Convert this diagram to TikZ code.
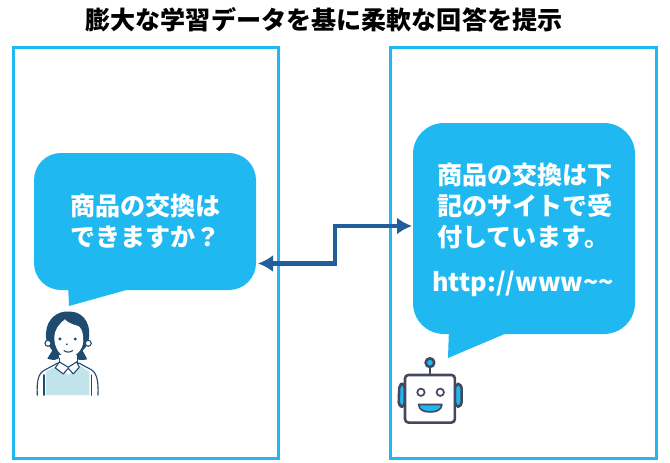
\documentclass[tikz,border=0pt]{standalone}
\usepackage{fontspec}
\setmainfont{Noto Sans CJK JP}
\usetikzlibrary{arrows.meta,calc}
\definecolor{sky}{HTML}{1FB8F1}
\definecolor{arrowblue}{HTML}{215F9C}
\definecolor{navy}{HTML}{1F4B6E}
\definecolor{vest}{HTML}{C1E4EA}
\definecolor{robot}{HTML}{44485F}
\tikzset{
  panel/.style={draw=sky,line width=3pt,minimum width=#1,minimum height=411pt,inner sep=0pt,outer sep=0pt},
  bubble/.style={fill=sky,rounded corners=#1,inner sep=0pt,outer sep=0pt},
  bubbletext/.style={text=white,font=\fontsize{25.1pt}{31pt}\selectfont\bfseries},
  person/.style={draw=navy,line width=1.1pt,line join=round,line cap=round},
  robotline/.style={draw=robot,line width=2.6pt,line join=round},
  link/.style={draw=arrowblue,line width=4.5pt,{Latex[length=15pt,width=17pt]}-{Latex[length=15pt,width=17pt]}}
}
\begin{document}
\begin{tikzpicture}[x=1pt,y=-1pt]
\useasboundingbox (0,0) rectangle (670,463);
\node[font=\fontsize{25.1pt}{30pt}\selectfont\bfseries,anchor=center] (title) at (324,20) {膨大な学習データを基に柔軟な回答を提示};
\node[panel=265pt,anchor=north west] (leftpanel) at (13,47.5) {};
\node[panel=266pt,anchor=north west] (rightpanel) at (390.5,47.5) {};
% bubbles
\node[bubble=27pt,minimum width=222pt,minimum height=137pt,anchor=north west] (lbubble) at (34,153) {};
\fill[sky] (68,285) -- (69,306) -- (130,289) -- cycle;
\node[bubble=31pt,minimum width=222pt,minimum height=211pt,anchor=north west] (rbubble) at (413,123) {};
\fill[sky] (449,328) -- (448,358) -- (507,333) -- cycle;
\node[bubbletext,align=center] (ltext) at (145.5,221) {商品の交換は\\できますか？};
\node[bubbletext,align=left,anchor=north west] (rtext) at (433.5,159.5) {商品の交換は下\\記のサイトで受\\付しています。};
\node[bubbletext,font=\fontsize{25.2pt}{30pt}\selectfont\bfseries] (url) at (523,284) {http://www\textasciitilde\textasciitilde};
% connector
\coordinate (la) at ($(lbubble.east)+(2,42)$);
\coordinate (ra) at ($(rbubble.west)+(-1,-2.5)$);
\draw[link] (la) -| ($(la)!0.5!(ra)$) |- (ra);
% person
\begin{scope}[shift={(20,280)},x=0.333pt,y=-0.333pt]
  \path[person,fill=white] (52,346) .. controls (50,300) and (55,280) .. (75,270) -- (112,250) -- (178,250) -- (215,270) .. controls (232,280) and (236,310) .. (234,346);
  \fill[vest] (78,346) -- (78,275) -- (110,258) -- (145,285) -- (180,258) -- (208,275) -- (208,346) -- cycle;
  \draw[person] (72,346) -- (72,285);
  \draw[person] (214,346) -- (214,285);
  \fill[navy] (78,160) .. controls (80,115) and (115,92) .. (145,95) .. controls (185,92) and (210,125) .. (208,165) .. controls (208,185) and (198,205) .. (188,212) -- (202,238) .. controls (185,243) and (170,240) .. (165,232) -- (120,232) .. controls (112,240) and (100,243) .. (82,236) -- (97,212) .. controls (88,200) and (76,185) .. (78,160) -- cycle;
  \draw[person,fill=white] (84,190) circle[radius=9];
  \draw[person,fill=white] (205,190) circle[radius=9];
  \path[fill=white] (118,225) -- (172,225) -- (172,262) -- (118,262) -- cycle;
  \path[fill=white] (103,170) .. controls (104,150) and (118,130) .. (135,118) .. controls (150,135) and (172,135) .. (178,140) .. controls (188,150) and (190,165) .. (190,185) .. controls (188,212) and (165,232) .. (145,232) .. controls (122,232) and (102,205) .. (103,170) -- cycle;
  \draw[person] (118,235) -- (118,250);
  \draw[person] (172,235) -- (172,250);
  \draw[person,fill=white] (118,246) -- (145,262) -- (170,246) -- (178,262) -- (160,282) -- (145,265) -- (130,282) -- (106,264) -- cycle;
  \fill[navy] (120,177) circle[radius=5];
  \fill[navy] (166,177) circle[radius=5];
  \fill[navy] (141,193) circle[radius=3];
  \draw[person] (132,212) .. controls (140,218) and (150,218) .. (158,212);
\end{scope}
% robot
\begin{scope}[shift={(380,330)},x=0.333pt,y=-0.333pt]
  \draw[robotline] (150,110) -- (150,135);
  \draw[robotline,fill=sky] (150,98) circle[radius=13];
  \draw[robotline,fill=sky,rounded corners=4pt] (75,162) -- (58,162) -- (56,230) -- (75,230) -- cycle;
  \draw[robotline,fill=sky,rounded corners=4pt] (225,162) -- (245,162) -- (245,230) -- (225,230) -- cycle;
  \draw[robotline,fill=white,rounded corners=3.5pt] (75,135) rectangle (225,278);
  \draw[draw=robot,line width=1.7pt,fill=white] (123,187) circle[radius=11];
  \draw[draw=robot,line width=1.7pt,fill=white] (181,187) circle[radius=11];
  \draw[draw=robot,line width=1.7pt,fill=sky,line join=round] (116,224) -- (186,224) .. controls (184,240) and (170,246) .. (151,246) .. controls (130,246) and (118,240) .. (116,224) -- cycle;
\end{scope}
\end{tikzpicture}
\end{document}
